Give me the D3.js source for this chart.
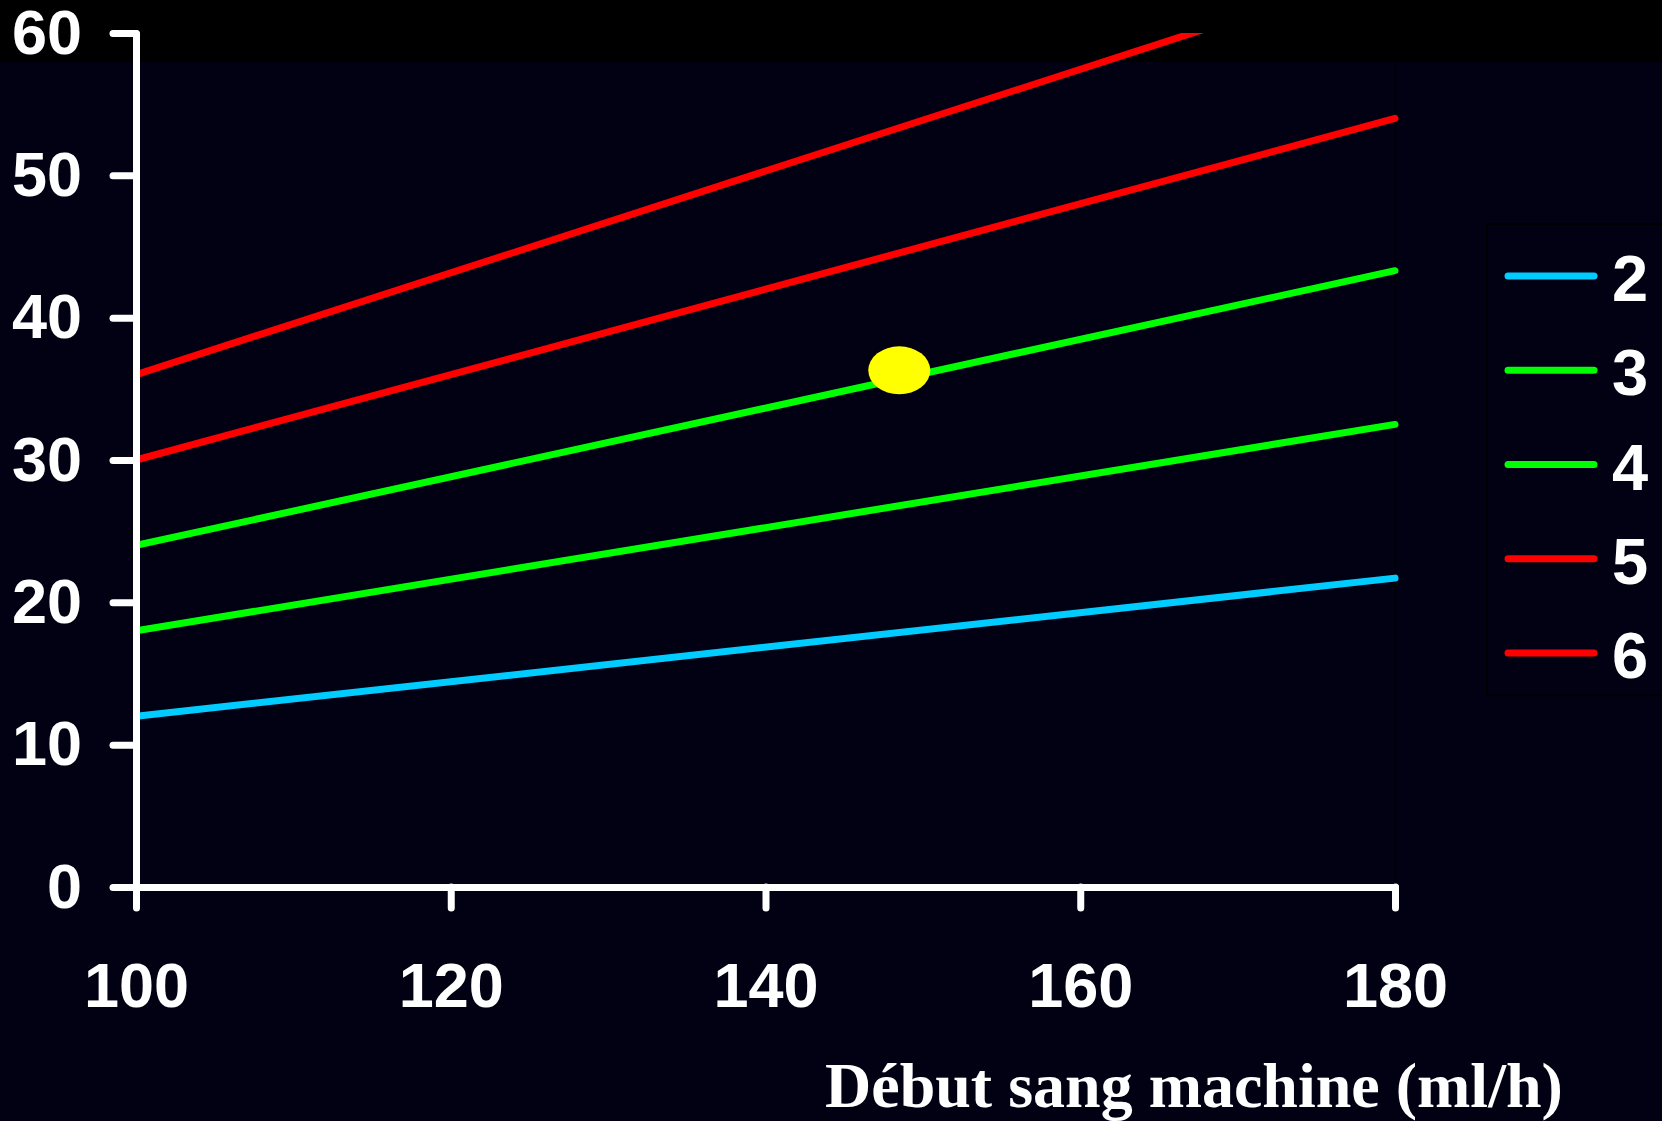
<!DOCTYPE html>
<html>
<head>
<meta charset="utf-8">
<script src="https://cdn.jsdelivr.net/npm/d3@7"></script>
<style>
  html, body { margin: 0; padding: 0; background: #020013; }
  svg { display: block; }
</style>
</head>
<body>
<svg id="chart" width="1662" height="1121"></svg>
<script>
// Data
var xStart = [100, 100, 100, 100, 100];
var xEnd = [180, 180, 180, 180, 180];
var seriesNames = ['2', '3', '4', '5', '6'];
var seriesStart = [12, 18, 24, 30, 36];
var seriesEnd = [21.7, 32.5, 43.3, 54.0, 64.6];
var seriesColors = ['#00ccff', '#00ff00', '#00ff00', '#ff0000', '#ff0000'];
var marker = [148.5, 36.3];
var xTicks = [100, 120, 140, 160, 180];
var yTicks = [0, 10, 20, 30, 40, 50, 60];
var xTitle = 'Début sang machine (ml/h)';

var W = 1662, H = 1121;
// plot box (note: "top" is taken by window.top)
var plotL = 136, plotT = 33, plotR = 1395, plotB = 887;

var svg = d3.select('#chart');

// backgrounds
svg.append('rect').attr('width', W).attr('height', H).attr('fill', '#020013');
svg.append('rect').attr('width', W).attr('height', 62).attr('fill', '#000000');
// faint plot edge
svg.append('line')
  .attr('x1', plotR + 0.5).attr('x2', plotR + 0.5)
  .attr('y1', 62).attr('y2', plotB)
  .attr('stroke', '#000000').attr('stroke-width', 1.5);

var x = d3.scaleLinear().domain([100, 180]).range([plotL, plotR]);
var y = d3.scaleLinear().domain([0, 60]).range([plotB, plotT]);

svg.append('defs').append('clipPath').attr('id', 'plotClip')
  .append('rect')
  .attr('x', plotL).attr('y', plotT)
  .attr('width', plotR - plotL + 8).attr('height', plotB - plotT);

var series = seriesNames.map(function (n, i) {
  return {
    name: n,
    color: seriesColors[i],
    pts: [[xStart[i], seriesStart[i]], [xEnd[i], seriesEnd[i]]]
  };
});

var line = d3.line().x(function (d) { return x(d[0]); }).y(function (d) { return y(d[1]); });

svg.append('g')
  .attr('clip-path', 'url(#plotClip)')
  .selectAll('.series')
  .data(series)
  .enter()
  .append('path')
  .attr('class', 'series')
  .attr('d', function (d) { return line(d.pts); })
  .style('fill', 'none')
  .style('stroke', function (d) { return d.color; })
  .style('stroke-width', 7)
  .style('stroke-linecap', 'round');

// yellow marker
svg.append('ellipse')
  .attr('cx', x(marker[0]))
  .attr('cy', y(marker[1]))
  .attr('rx', 31)
  .attr('ry', 24)
  .attr('fill', '#ffff00');

// axes
var fontSans = '"Liberation Sans", Arial, sans-serif';

var gx = svg.append('g')
  .attr('transform', 'translate(0,' + plotB + ')')
  .call(d3.axisBottom(x).tickValues(xTicks).tickSize(21).tickSizeOuter(0).tickPadding(54));

var gy = svg.append('g')
  .attr('transform', 'translate(' + plotL + ',0)')
  .call(d3.axisLeft(y).tickValues(yTicks).tickSize(23).tickSizeOuter(0).tickPadding(31));

[gx, gy].forEach(function (g) {
  g.select('.domain')
    .style('stroke', '#ffffff')
    .style('stroke-width', 7)
    .style('stroke-linecap', 'round');
  g.selectAll('.tick line')
    .style('stroke', '#ffffff')
    .style('stroke-width', 7)
    .style('stroke-linecap', 'round');
  g.selectAll('.tick text')
    .style('fill', '#ffffff')
    .style('font-family', fontSans)
    .style('font-weight', 'bold')
    .style('font-size', '63px');
});

// x title
svg.append('text')
  .attr('x', 825)
  .attr('y', 1107)
  .text(xTitle)
  .style('fill', '#ffffff')
  .style('font-family', '"Liberation Serif", "Times New Roman", serif')
  .style('font-weight', 'bold')
  .style('font-size', '64px');

// legend
var legend = svg.append('g');
legend.append('rect')
  .attr('x', 1487).attr('y', 224)
  .attr('width', 190).attr('height', 471)
  .attr('fill', 'none')
  .attr('stroke', '#000000')
  .attr('stroke-width', 2);

var ly = d3.scalePoint().domain(seriesNames).range([276, 653]);

var items = legend.selectAll('.item')
  .data(series)
  .enter()
  .append('g')
  .attr('class', 'item')
  .attr('transform', function (d) { return 'translate(0,' + ly(d.name) + ')'; });

items.append('line')
  .attr('x1', 1508).attr('x2', 1594)
  .attr('y1', 0).attr('y2', 0)
  .style('stroke', function (d) { return d.color; })
  .style('stroke-width', 7)
  .style('stroke-linecap', 'round');

items.append('text')
  .attr('x', 1612)
  .attr('y', 25)
  .text(function (d) { return d.name; })
  .style('fill', '#ffffff')
  .style('font-family', fontSans)
  .style('font-weight', 'bold')
  .style('font-size', '65px');
</script>
</body>
</html>
